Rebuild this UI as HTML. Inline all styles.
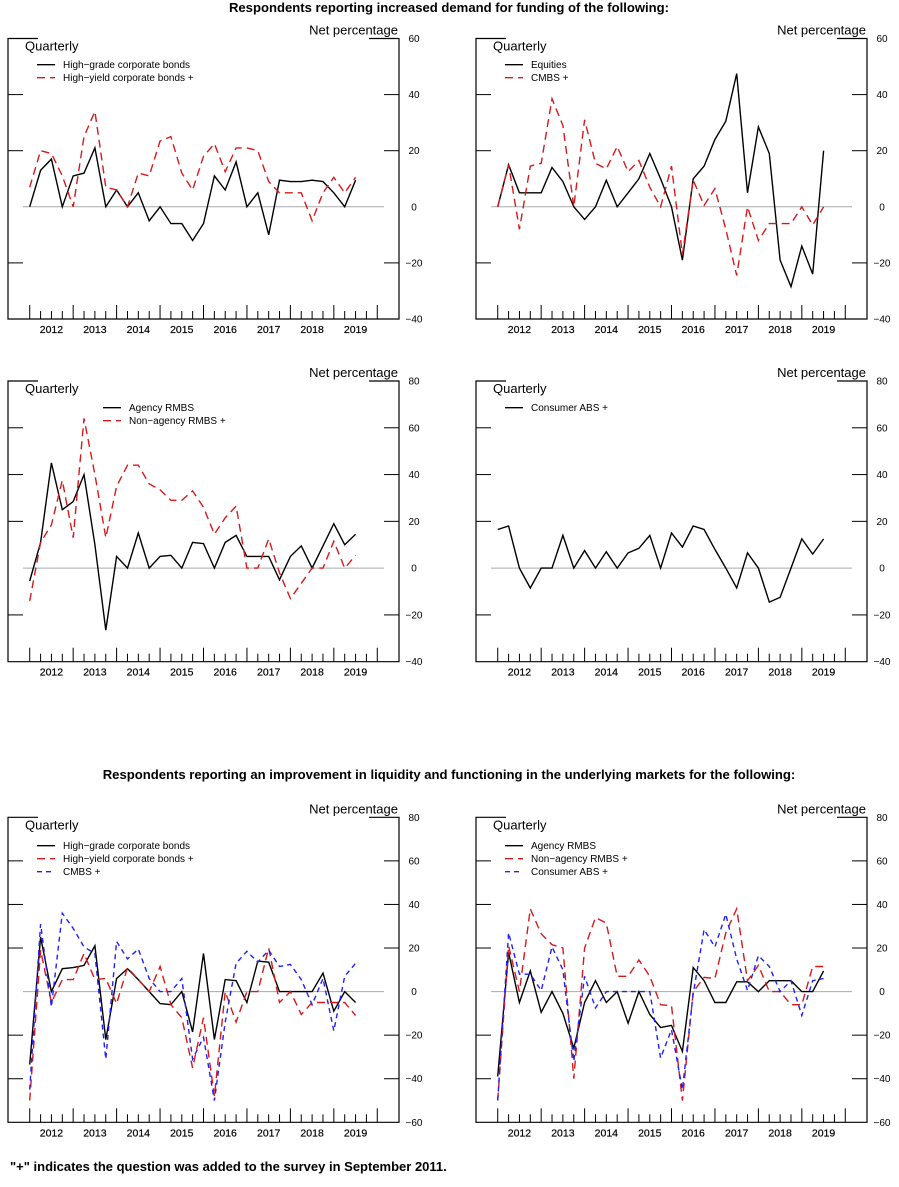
<!DOCTYPE html>
<html><head><meta charset="utf-8"><style>
body{margin:0;background:#fff;}
svg{display:block;font-family:"Liberation Sans",Arial,sans-serif;}
</style></head><body>
<svg id="c" width="899" height="1187" viewBox="0 0 899 1187">
<text x="449" y="12" text-anchor="middle" font-size="13.1" font-weight="bold">Respondents reporting increased demand for funding of the following:</text>
<text x="449" y="779" text-anchor="middle" font-size="13.1" font-weight="bold">Respondents reporting an improvement in liquidity and functioning in the underlying markets for the following:</text>
<text x="10" y="1171" font-size="13" font-weight="bold">"+" indicates the question was added to the survey in September 2011.</text>
</svg>
<script>
const years = ["2012","2013","2014","2015","2016","2017","2018","2019"];
const p1HighGrade = [0,13,17,0,11,12,21,0,6,0,5,-5,0,-6,-6,-12,-6,11,6,16,0,5,-10,9.5,9,9,9.5,9,5,0,9.5];
const p1HighYield = [7,20,19,11,0,25,34,7,6,0,12,11,23.5,25,12,6,18,22.5,12.5,21,21,20,9,5,5,5,-5,5,10.5,5,10.5];
const p2Equities = [0,15,5,5,5,14,9,0,-4.5,0,9.5,0,5,10,19,10,0,-19,10,14.5,24,30.5,47.5,5,28.5,19,-19,-28.5,-14,-24,20];
const p2Cmbs = [0,15,-8,14.5,15.5,38.5,29,0,31,15.5,13.5,21.5,12.5,16.5,7,0,14.5,-17,9.5,0.5,6.5,-8,-24.5,0,-12,-6,-6,-6,0,-6.5,0];
const p3Agency = [-5.5,11,45,25,28.5,40,10,-26.5,5,0,15,0,5,5.5,0,11,10.5,0,11,14,5,5,5,-5,5,9.5,0,9.5,19,10,14.5];
const p3NonAgency = [-14,11,18.5,37.5,13,64,40,13,35,44,44,36,33.5,29,29,33,26,14.5,21.5,26.5,0,0,12.5,-2,-13,-6.5,0,0,11.5,0,5.5];
const p4ConsumerAbs = [16.5,18,0,-8.5,0,0,14,0,7.5,0,7,0,6.5,8.5,14,0,15,9,18,16.5,8,0,-8.5,6.5,0,-14.5,-12.5,0,12.5,6,12.5];
const p5HighGrade = [-33.5,25,0,10.5,11,12,21,-22,6,10.5,5.5,0,-5.5,-6,0,-18.5,17.5,-22,5.5,5,-5,14,13.5,0,0,0,0,8.5,-9,0,-5];
const p5HighYield = [-50,19,-5,5.5,5.5,17.5,5.5,6,-5.5,11,5.5,0,11.5,-6,-12,-35,-12,-48,0,-14,0,0,20,-5,0,-10.5,-5,-5,-5,-5,-11];
const p5Cmbs = [-45,31,-7,36,29,20.5,17.5,-31,23,15,19.5,6,0,0,6,-31,-21,-50,-14,13,18.5,13.5,19,11.5,12.5,5.5,-6,6,-18,7,13];
const p6Agency = [-39,18,-5,9.5,-9.5,0,-10,-26,-5,5,-5,0,-14.5,0,-10.5,-16.5,-15.5,-27.5,11,5,-5,-5,4.5,4.5,0,5,5,5,0,0,9.5];
const p6NonAgency = [-50,21,0,38,26.5,21.5,20,-40,20,34,31.5,7,7,14.5,7,-6,-6.5,-50,0,6.5,6,27,38,5,12,0,0,-6,-6,11.5,11.5];
const p6ConsumerAbs = [-50,27,8,8,0.5,20.5,10,-32,7,-7.5,0,0,0,0,0,-30.5,-17.5,-45,-1,28.5,20.5,35.5,15,0.5,16.5,11.5,0,5,-11,5,6];
const yTicks1 = [60,40,20,0,-20,-40];
const yTicks2 = [80,60,40,20,0,-20,-40];
const yTicks3 = [80,60,40,20,0,-20,-40,-60];

const NS="http://www.w3.org/2000/svg";
const svg=document.getElementById('c');
function mk(tag,attrs,parent){const e=document.createElementNS(NS,tag);for(const k in attrs)e.setAttribute(k,attrs[k]);(parent||svg).appendChild(e);return e;}
const styles={black:{stroke:'#000',dash:''},red:{stroke:'#d7191c',dash:'8,5'},blue:{stroke:'#1f1fff',dash:'5,4'}};

function panel(name,L,T,B,ticks,series,legX,legY){
  const R=L+391, q=391/36, ymax=ticks[0], ymin=ticks[ticks.length-1];
  const g=mk('g',{});
  
  
  const y=v=>T+(ymax-v)/(ymax-ymin)*(B-T);
  const x=i=>L+2*q+i*q;
  const fr=mk('path',{d:`M${L+30},${T}H${L}V${B}H${R}V${T}H${R-30}`,fill:'none',stroke:'#000','stroke-width':1.2},g);
  
  
  const z=mk('line',{x1:L+15,x2:R-15,y1:y(0),y2:y(0),stroke:'#aaa','stroke-width':1},g);
  
  
  ticks.forEach((t,k)=>{
    if(k>0&&k<ticks.length-1&&t!==0){
      mk('line',{x1:L,x2:L+15,y1:y(t),y2:y(t),stroke:'#000','stroke-width':1},g);
      mk('line',{x1:R-15,x2:R,y1:y(t),y2:y(t),stroke:'#000','stroke-width':1},g);
    }
    const tl=mk('text',{x:L+406,y:y(t)+3.5,'text-anchor':'middle','font-size':10},g);
    tl.textContent=(t<0?'\u2212'+(-t):''+t);
    
    
  });
  for(let i=0;i<=32;i++){
    const big=i%4===0;
    mk('line',{x1:x(i),x2:x(i),y1:B-(big?14:8),y2:B,stroke:'#000','stroke-width':1},g);
  }
  years.forEach((yr,k)=>{
    const t=mk('text',{x:x(4*k+2),y:B+14,'text-anchor':'middle','font-size':10.5,'stroke':'#000','stroke-width':0.2},g);
    t.textContent=yr;
    
    
  });
  const qt=mk('text',{x:L+17,y:T+12,'font-size':13},g);qt.textContent='Quarterly';
  
  
  const np=mk('text',{x:R-1,y:T-4,'text-anchor':'end','font-size':13},g);np.textContent='Net percentage';
  
  
  series.forEach((s,k)=>{
    const st=styles[s.c];
    const d=s.data.map((v,i)=>(i?'L':'M')+x(i).toFixed(1)+','+y(v).toFixed(1)).join('');
    const p=mk('path',{d,fill:'none',stroke:st.stroke,'stroke-width':1.4,'stroke-dasharray':st.dash,'stroke-linejoin':'miter'},g);
    
    
    const ly=legY+k*13;
    const ll=mk('line',{x1:L+legX,x2:L+legX+18,y1:ly,y2:ly,stroke:st.stroke,'stroke-width':1.3,'stroke-dasharray':st.dash},g);
    
    
    const lt=mk('text',{x:L+legX+26,y:ly+3.5,'font-size':10},g);lt.textContent=s.label;
    
    
  });
}
panel('panel-corporate-bonds-demand',8,38.5,319,yTicks1,[{id:'high-grade',c:'black',data:p1HighGrade,label:'High\u2212grade corporate bonds'},{id:'high-yield',c:'red',data:p1HighYield,label:'High\u2212yield corporate bonds +'}],29,64.7);
panel('panel-equities-cmbs-demand',476,38.5,319,yTicks1,[{id:'equities',c:'black',data:p2Equities,label:'Equities'},{id:'cmbs',c:'red',data:p2Cmbs,label:'CMBS +'}],29,64.7);
panel('panel-rmbs-demand',8,381,661.7,yTicks2,[{id:'agency-rmbs',c:'black',data:p3Agency,label:'Agency RMBS'},{id:'non-agency-rmbs',c:'red',data:p3NonAgency,label:'Non\u2212agency RMBS +'}],95,407.7);
panel('panel-consumer-abs-demand',476,381,661.7,yTicks2,[{id:'consumer-abs',c:'black',data:p4ConsumerAbs,label:'Consumer ABS +'}],29,407.7);
panel('panel-corporate-liquidity',8,817.3,1122.3,yTicks3,[{id:'high-grade-liq',c:'black',data:p5HighGrade,label:'High\u2212grade corporate bonds'},{id:'high-yield-liq',c:'red',data:p5HighYield,label:'High\u2212yield corporate bonds +'},{id:'cmbs-liq',c:'blue',data:p5Cmbs,label:'CMBS +'}],29,845.7);
panel('panel-rmbs-abs-liquidity',476,817.3,1122.3,yTicks3,[{id:'agency-rmbs-liq',c:'black',data:p6Agency,label:'Agency RMBS'},{id:'non-agency-rmbs-liq',c:'red',data:p6NonAgency,label:'Non\u2212agency RMBS +'},{id:'consumer-abs-liq',c:'blue',data:p6ConsumerAbs,label:'Consumer ABS +'}],29,845.7);
</script>
</body></html>
